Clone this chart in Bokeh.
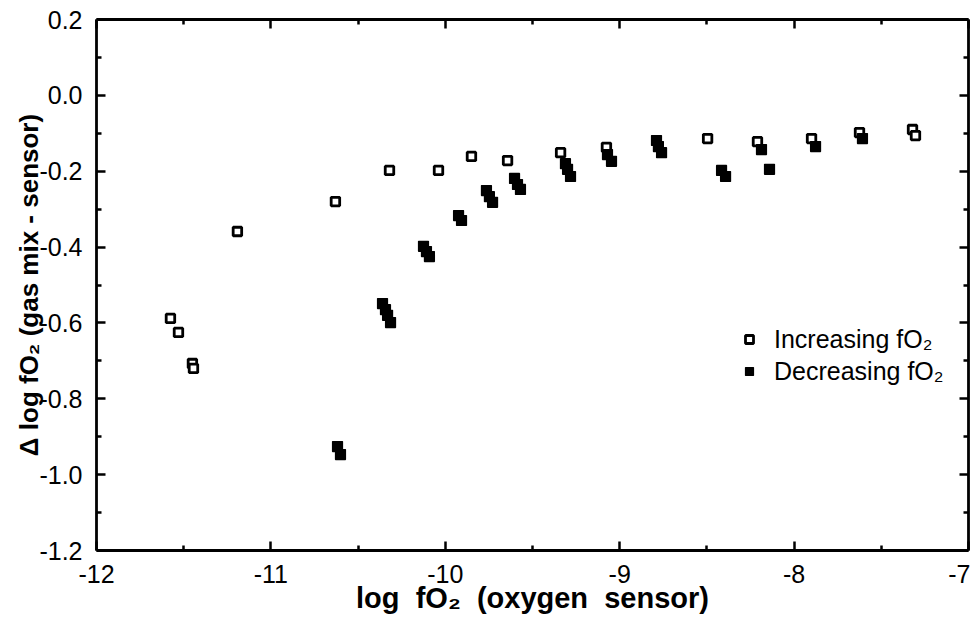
from bokeh.plotting import figure
from bokeh.models import (Range1d, LinearAxis, FixedTicker, Legend, LegendItem,
                          PrintfTickFormatter, CustomJSTickFormatter)
from bokeh.embed import file_html
from bokeh.resources import INLINE

# Increasing fO2 (open squares)
inc_x = [-11.576, -11.530, -11.450, -11.444, -11.192, -10.630, -10.320, -10.039,
         -9.850, -9.643, -9.339, -9.076, -8.496, -8.210, -7.900, -7.625, -7.321, -7.304]
inc_y = [-0.588, -0.625, -0.707, -0.720, -0.359, -0.280, -0.198, -0.198,
         -0.161, -0.172, -0.151, -0.137, -0.114, -0.122, -0.114, -0.098, -0.090, -0.106]

# Decreasing fO2 (filled squares)
dec_x = [-10.618, -10.601, -10.360, -10.343, -10.331, -10.314, -10.125, -10.108, -10.091,
         -9.924, -9.907, -9.764, -9.747, -9.729, -9.603, -9.586, -9.569,
         -9.311, -9.299, -9.282, -9.070, -9.047, -8.789, -8.778, -8.760,
         -8.416, -8.393, -8.187, -8.141, -7.877, -7.608]
dec_y = [-0.926, -0.947, -0.549, -0.565, -0.580, -0.599, -0.398, -0.412, -0.425,
         -0.317, -0.330, -0.251, -0.267, -0.282, -0.219, -0.235, -0.248,
         -0.180, -0.195, -0.214, -0.156, -0.174, -0.119, -0.135, -0.151,
         -0.198, -0.214, -0.143, -0.195, -0.135, -0.114]

# Axis ticks
x_major = [-12, -11, -10, -9, -8, -7]
x_minor = [-11.5, -10.5, -9.5, -8.5, -7.5]
y_major = [-1.2, -1.0, -0.8, -0.6, -0.4, -0.2, 0.0, 0.2]
y_minor = [-1.1, -0.9, -0.7, -0.5, -0.3, -0.1, 0.1]

NB = "\u00a0"
x_title = "log" + NB + " fO\u2082" + NB + " (oxygen" + NB + " sensor)"
y_title = "\u0394 log fO\u2082 (gas mix - sensor)"
inc_label = "Increasing fO\u2082"
dec_label = "Decreasing fO\u2082"

FONT = "Liberation Sans"

p = figure(width=970, height=624, x_range=Range1d(-12, -7), y_range=Range1d(-1.2, 0.2),
           output_backend="svg", toolbar_location=None, x_axis_location=None, y_axis_location=None,
           min_border_left=96, min_border_right=2, min_border_top=19, min_border_bottom=74)
p.outline_line_color = None
p.xgrid.visible = False
p.ygrid.visible = False
p.background_fill_color = "white"
p.border_fill_color = "white"

def style_axis(ax, labels=True):
    ax.axis_line_width = 2.8
    ax.axis_line_color = "black"
    ax.major_tick_in = 9
    ax.major_tick_out = 0
    ax.minor_tick_in = 5
    ax.minor_tick_out = 0
    ax.major_tick_line_width = 2.5
    ax.minor_tick_line_width = 2.5
    ax.major_tick_line_color = "black"
    ax.minor_tick_line_color = "black"
    if labels:
        ax.major_label_text_font = FONT
        ax.major_label_text_font_size = "25px"
        ax.major_label_text_color = "black"
        ax.major_label_standoff = 14
        ax.axis_label_text_font = FONT
        ax.axis_label_text_font_style = "bold"
        ax.axis_label_text_color = "black"
    else:
        ax.formatter = CustomJSTickFormatter(code="return '';")
        ax.major_label_standoff = 0

xticker = FixedTicker(ticks=x_major, minor_ticks=x_minor)
yticker = FixedTicker(ticks=y_major, minor_ticks=y_minor)

xb = LinearAxis(ticker=xticker, formatter=PrintfTickFormatter(format="%d"), axis_label=x_title)
style_axis(xb)
xb.axis_label_text_font_size = "29px"
xb.axis_label_standoff = -4
xt = LinearAxis(ticker=xticker)
style_axis(xt, labels=False)
yl = LinearAxis(ticker=yticker, formatter=PrintfTickFormatter(format="%.1f"), axis_label=y_title)
style_axis(yl)
yl.axis_label_text_font_size = "26px"
yl.axis_label_standoff = -8
yr = LinearAxis(ticker=yticker)
style_axis(yr, labels=False)
p.add_layout(xb, "below")
p.add_layout(xt, "above")
p.add_layout(yl, "left")
p.add_layout(yr, "right")

r_inc = p.scatter(inc_x, inc_y, marker="square", size=8.5, fill_color="white",
                  line_color="black", line_width=2.8)
r_dec = p.scatter(dec_x, dec_y, marker="square", size=10, fill_color="black",
                  line_color="black", line_width=1.2)

legend = Legend(items=[LegendItem(label=inc_label, renderers=[r_inc]),
                       LegendItem(label=dec_label, renderers=[r_dec])],
                location=(643, 163), orientation="vertical",
                padding=0, margin=0, spacing=0,
                glyph_width=20, glyph_height=32, label_height=32,
                label_standoff=15, label_text_font=FONT, label_text_font_size="25px",
                label_text_color="black", border_line_color=None,
                background_fill_alpha=0)
p.add_layout(legend, "center")

open("out.html", "w").write(file_html(p, INLINE))
